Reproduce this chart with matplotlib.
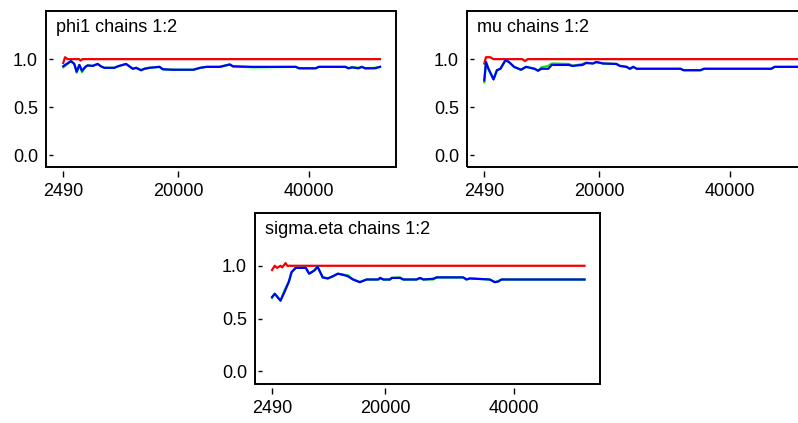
import numpy as np
import matplotlib
matplotlib.use("Agg")
import matplotlib.pyplot as plt
from matplotlib.patches import Rectangle

plt.rcParams['font.family'] = ['Liberation Sans', 'DejaVu Sans']

# phi1
phi1_iter = [2490, 3660, 4170, 4530, 4940, 5350, 5860, 6210, 6980, 7740, 8250, 8760,
             10290, 10800, 12080, 12590, 13100, 13610, 14370, 14880, 15650, 17180, 17690,
             19220, 22370, 23380, 24380, 26400, 27910, 28410, 31440, 37990, 38500, 41020,
             41530, 45560, 46060, 46570, 47570, 48080, 48590, 50100, 50860]
phi1_blue = [.927, .98, .95, .87, .94, .88, .92, .935, .93, .95, .925, .91, .91, .925, .95,
             .925, .90, .91, .885, .90, .91, .92, .895, .89, .89, .91, .92, .92, .945, .925,
             .92, .92, .905, .905, .92, .92, .905, .915, .905, .92, .905, .905, .92]
phi1_green = [.915, .98, .95, .86, .94, .865, .92, .935, .93, .95, .925, .91, .91, .925, .95,
              .925, .90, .91, .885, .90, .91, .92, .895, .89, .89, .91, .92, .92, .945, .925,
              .915, .92, .905, .905, .92, .92, .905, .915, .91, .92, .905, .91, .92]
phi1_iter_r = [2490, 2750, 3150, 4900, 5150, 5400, 50860]
phi1_red = [.96, 1.02, 1.0, 1.0, .985, 1.0, 1.0]

# mu
mu_iter = [2490, 2750, 3120, 3900, 4420, 4950, 5730, 6260, 7040, 8090, 8870, 10180, 10700,
           11220, 12270, 12790, 15410, 15930, 17500, 18030, 19070, 19600, 20620, 22670,
           23190, 24210, 24730, 25240, 25760, 32440, 32950, 35520, 36040, 46320, 46830, 51000]
mu_blue = [.78, .97, .90, .79, .885, .90, .99, .97, .92, .89, .92, .90, .88, .90, .90, .94,
           .94, .93, .94, .96, .955, .97, .955, .95, .93, .92, .90, .92, .90, .90, .885, .885,
           .90, .90, .92, .92]
mu_green = [.76, .97, .90, .79, .885, .90, .99, .97, .92, .89, .92, .90, .88, .915, .93, .955,
            .95, .93, .95, .965, .955, .97, .955, .95, .93, .92, .90, .92, .90, .90, .885, .885,
            .90, .90, .92, .92]
mu_iter_r = [2490, 2750, 3400, 3900, 8300, 8700, 9100, 51000]
mu_red = [.955, 1.02, 1.02, 1.0, 1.0, .98, 1.0, 1.0]

# sigma.eta
sig_iter = [2490, 2910, 3800, 4480, 5100, 5520, 6150, 7720, 8240, 9030, 9550, 10340, 11120,
            11900, 12690, 13470, 14260, 15040, 16090, 17140, 18960, 19220, 19740, 20770,
            21030, 22320, 22830, 24890, 25410, 25920, 27470, 27980, 32100, 32620, 33130,
            36220, 37000, 37510, 38030, 50900]
sig_blue = [.704, .735, .67, .76, .85, .94, .98, .98, .925, .955, .99, .89, .88, .90, .925,
            .915, .90, .87, .845, .87, .87, .885, .87, .87, .885, .885, .87, .87, .885, .87,
            .877, .89, .89, .87, .88, .87, .845, .85, .87, .87]
sig_green = [.695, .735, .67, .775, .85, .94, .98, .98, .925, .955, .99, .89, .88, .90, .925,
             .915, .91, .87, .845, .87, .87, .885, .87, .87, .885, .89, .87, .87, .885, .87,
             .87, .89, .89, .87, .88, .87, .845, .855, .87, .87]
sig_iter_r = [2490, 2910, 3280, 3800, 4060, 4580, 4850, 50900]
sig_red = [.96, 1.0, .98, 1.0, .985, 1.025, 1.0, 1.0]

x_ticks = [2490, 20000, 40000]
y_ticks = [0.0, 0.5, 1.0]


def draw_panel(fig, rect, title, it, green, blue, it_r, red):
    ax = fig.add_axes(rect)
    ax.plot(it_r, red, color='#f00000', lw=1.6)
    ax.plot(it, green, color='#00f000', lw=1.6)
    ax.plot(it, blue, color='#0000ff', lw=1.6)
    ax.set_xlim(-150, 53300)
    ax.set_ylim(-0.12, 1.5)
    ax.set_xticks(x_ticks)
    ax.set_xticklabels([str(v) for v in x_ticks])
    ax.set_yticks(y_ticks)
    ax.set_yticklabels(['%.1f' % v for v in y_ticks])
    for s in ax.spines.values():
        s.set_visible(False)
    ax.spines['left'].set_position(('outward', -2.2))
    ax.spines['bottom'].set_position(('outward', 3))
    ax.tick_params(axis='y', direction='in', length=3, width=1, pad=8, labelsize=13)
    ax.tick_params(axis='x', direction='out', length=4.3, width=1, pad=4.5, labelsize=13)
    ax.add_patch(Rectangle((0, 0), 1, 1, transform=ax.transAxes, fill=False,
                           lw=1.4, ec='black', clip_on=False))
    ax.annotate(title, xy=(0, 1), xycoords='axes fraction', xytext=(7.5, -5.5),
                textcoords='offset points', ha='left', va='top', fontsize=13)
    return ax


fig = plt.figure(figsize=(7.98, 4.23), dpi=100)
W, H = 798.0, 423.0
draw_panel(fig, [46 / W, 1 - 167 / H, 350 / W, 156 / H], 'phi1 chains 1:2',
           phi1_iter, phi1_green, phi1_blue, phi1_iter_r, phi1_red)
draw_panel(fig, [467 / W, 1 - 167 / H, 350 / W, 156 / H], 'mu chains 1:2',
           mu_iter, mu_green, mu_blue, mu_iter_r, mu_red)
draw_panel(fig, [255 / W, 1 - 384 / H, 345 / W, 171 / H], 'sigma.eta chains 1:2',
           sig_iter, sig_green, sig_blue, sig_iter_r, sig_red)

fig.savefig('out.png', dpi=100)
